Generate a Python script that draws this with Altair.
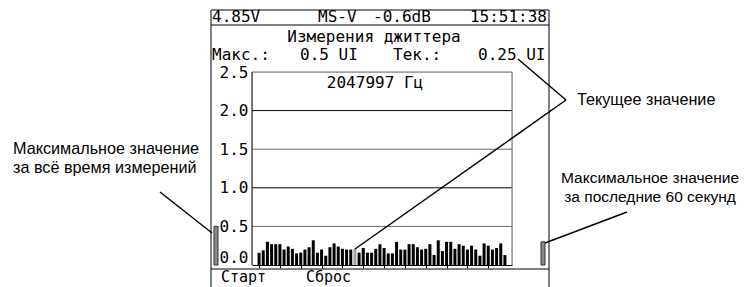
import altair as alt
import pandas as pd

# ---- data ----
jitter = [0.16, 0.19, 0.30, 0.27, 0.27, 0.27, 0.20, 0.24, 0.21, 0.15,
          0.16, 0.20, 0.23, 0.32, 0.16, 0.20, 0.12, 0.23, 0.28, 0.24,
          0.21, 0.20, 0.20, 0.21, 0.16, 0.22, 0.16, 0.16, 0.21, 0.27,
          0.22, 0.15, 0.15, 0.30, 0.20, 0.20, 0.27, 0.27, 0.23, 0.20,
          0.21, 0.27, 0.13, 0.32, 0.18, 0.30, 0.30, 0.21, 0.27, 0.25,
          0.20, 0.25, 0.20, 0.12, 0.28, 0.25, 0.20, 0.22, 0.28, 0.13]
seconds = list(range(len(jitter)))
current_idx = 23
y_ticks = [0.0, 0.5, 1.0, 1.5, 2.0, 2.5]
grid_vals = [0.5, 1.0, 1.5, 2.0]
x_ticks = list(range(0, 60, 5))
max_all_time = [0.5]
max_last_60 = [0.30]

header = ["4.85V", "MS-V", "-0.6dB", "15:51:38"]
title_txt = "Измерения джиттера"
row2 = ["Макс.:", "0.5 UI", "Тек.:", "0.25 UI"]
freq_txt = "2047997 Гц"
footer = ["Старт", "Сброс"]
ann_current = "Текущее значение"
ann_left = ["Максимальное значение", "за всё время измерений"]
ann_right = ["Максимальное значение", "за последние 60 секунд"]

# ---- layout ----
W, H = 260, 193
MONO = "DejaVu Sans Mono"
NARROW = "Liberation Sans Narrow, Liberation Sans, Arial, sans-serif"
ANN_SIZE = 16.2
xs = alt.Scale(domain=[-0.5, 59.5])
ys = alt.Scale(domain=[0, 2.5])
one = pd.DataFrame({"k": [0]})

yaxis = alt.Axis(values=y_ticks, format=".1f", grid=False, ticks=False, domain=False,
                 labelFont=MONO, labelFontSize=16, labelColor="black", labelPadding=4,
                 labelBaseline={"condition": {"test": "datum.value == 0", "value": "bottom"},
                                "value": "middle"})
xaxis = alt.Axis(values=x_ticks, labels=False, tickSize=3, tickColor="black",
                 domainColor="black", grid=False, tickWidth=1, domainWidth=1)


def seg(x1, y1, x2, y2, color="black", w=1):
    return alt.Chart(one).mark_rule(color=color, strokeWidth=w).encode(
        x=alt.value(x1), y=alt.value(y1), x2=alt.value(x2), y2=alt.value(y2))


def txt(s, x, y, font=MONO, size=16, align="left", baseline="middle", lh=None):
    kw = dict(text=s, font=font, fontSize=size, align=align, baseline=baseline, color="black")
    if lh is not None:
        kw["lineHeight"] = lh
    return alt.Chart(one).mark_text(**kw).encode(x=alt.value(x), y=alt.value(y))


df = pd.DataFrame({"i": seconds, "v": jitter})

bars = alt.Chart(df).mark_bar(size=3).encode(
    x=alt.X("i:Q", scale=xs, title=None, axis=xaxis),
    y=alt.Y("v:Q", scale=ys, title=None, axis=yaxis),
    color=alt.condition(f"datum.i == {current_idx}", alt.value("#a0a0a0"), alt.value("#000000")),
)

grid = alt.Chart(pd.DataFrame({"g": grid_vals})).mark_rule(strokeWidth=1).encode(
    y=alt.Y("g:Q", scale=ys, title=None, axis=yaxis),
    x=alt.value(0), x2=alt.value(W),
    color=alt.condition("datum.g == 1 || datum.g == 2", alt.value("black"), alt.value("#6a6a6a")),
)

left_bar = alt.Chart(pd.DataFrame({"m": max_all_time})).mark_bar(
    fill="#8a8a8a", stroke="#333", strokeWidth=1).encode(
    y=alt.Y("m:Q", scale=ys, title=None, axis=yaxis), y2=alt.value(H),
    x=alt.value(-38), x2=alt.value(-34))

right_bar = alt.Chart(pd.DataFrame({"m": max_last_60})).mark_bar(
    fill="#8a8a8a", stroke="#333", strokeWidth=1).encode(
    y=alt.Y("m:Q", scale=ys, title=None, axis=yaxis), y2=alt.value(H),
    x=alt.value(289), x2=alt.value(293))

layers = [
    bars,
    grid,
    # plot box
    seg(0, 0, W, 0, "#6a6a6a"), seg(0, 0, 0, H, "black"), seg(W, 0, W, H, "#6a6a6a"),
    # screen frame
    seg(-41, -62, -41, 215), seg(297, -62, 297, 215), seg(-41, -62, 297, -62),
    seg(-41, -47, 297, -47), seg(-41, 197, 297, 197),
    left_bar, right_bar,
    # screen texts
    txt(header[0], -40, -55), txt(header[1], 66, -55), txt(header[2], 121, -55),
    txt(header[3], 295, -55, align="right"),
    txt(title_txt, 122, -35, align="center"),
    txt(row2[0], -40, -17), txt(row2[1], 48, -17), txt(row2[2], 141, -17), txt(row2[3], 226, -17),
    txt(freq_txt, 123, 11, align="center"),
    txt(footer[0], -31, 210, size=15, baseline="alphabetic"),
    txt(footer[1], 54, 210, size=15, baseline="alphabetic"),
    # annotations
    txt(ann_current, 325, 28, font=NARROW, size=ANN_SIZE),
    txt(ann_left, -239, 77, font=NARROW, size=ANN_SIZE, lh=19),
    txt(ann_right, 398, 106, font=NARROW, size=15.5, align="center", lh=19),
    seg(103, 177, 314, 28, w=1.5), seg(266, -13, 314, 28, w=1.5),
    seg(-92, 120, -40, 161, w=1.5), seg(375, 140, 293, 171, w=1.5),
]

chart = alt.layer(*layers).properties(
    width=W, height=H,
    padding={"left": 244, "top": 64, "right": 233, "bottom": 22},
    autosize=alt.AutoSizeParams(type="none"),
).configure_view(stroke=None).configure(background="white")

chart.save("out.html", embed_options={"renderer": "svg", "actions": False})
